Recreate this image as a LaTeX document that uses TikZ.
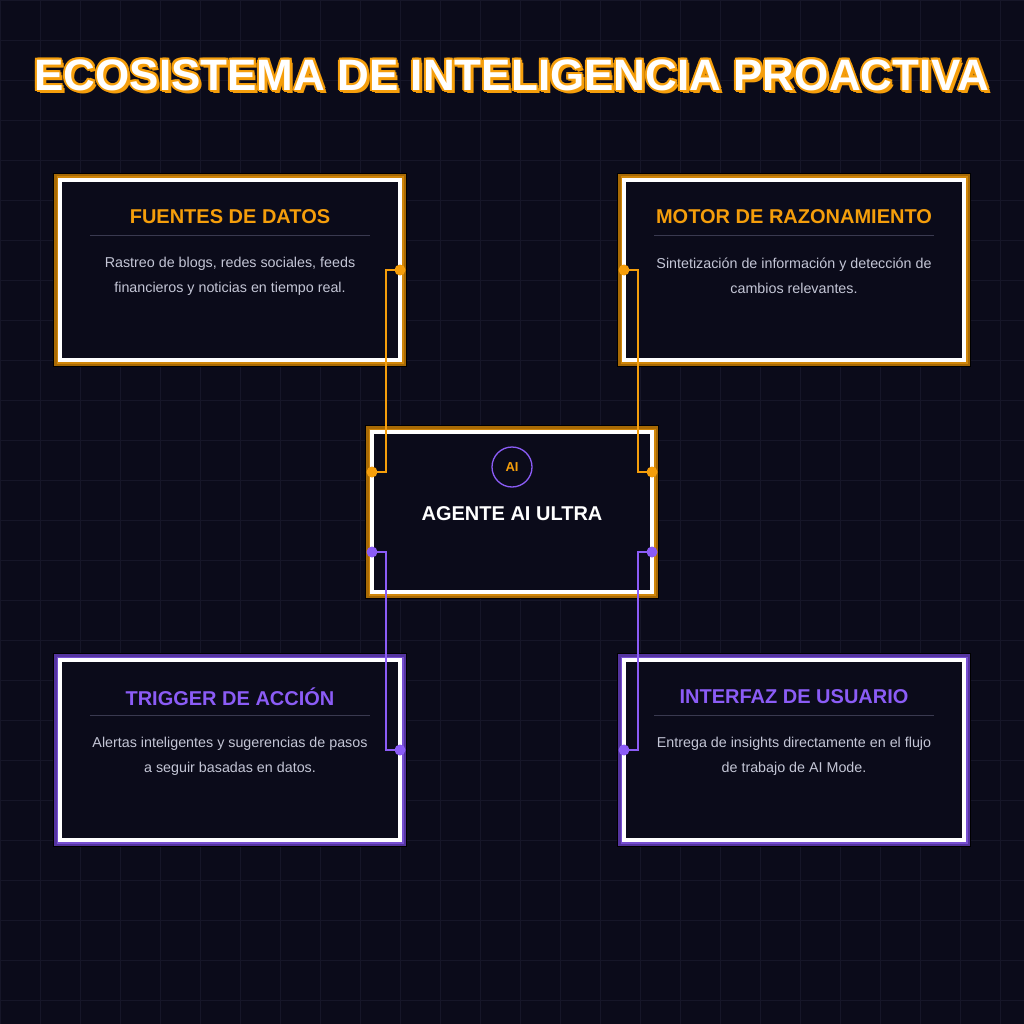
\documentclass[tikz,border=0pt]{standalone}
\usepackage{fontspec}
\setmainfont{Liberation Sans}
\definecolor{bg}{HTML}{0B0B1A}
\definecolor{gridc}{HTML}{161628}
\definecolor{org}{HTML}{F59E0B}
\definecolor{orgd}{HTML}{A86A05}
\definecolor{pur}{HTML}{8B5CF6}
\definecolor{purd}{HTML}{5535A0}
\definecolor{desc}{HTML}{C4C6D6}
\definecolor{sep}{HTML}{3A3A50}
\tikzset{
 ttl/.style={font=\bfseries\fontsize{20}{24}\selectfont},
 dsc/.style={font=\fontsize{14.3}{25}\selectfont, text=desc, align=center},
 conn/.style={line width=1.5pt},
 dot/.style={circle, inner sep=0pt, minimum size=11pt},
}
\newcommand{\cardbox}[6]{% x1 y1 x2 y2 accent dark
 \fill[black] (#1-7,#2-7) rectangle (#3+7,#4+7);
 \draw[#6, line width=6pt] (#1-3,#2-3) rectangle (#3+3,#4+3);
 \draw[#5!85!black, line width=2pt] (#1-2.5,#2-2.5) rectangle (#3+2.5,#4+2.5);
 \fill[bg] (#1,#2) rectangle (#3,#4);
 \draw[white, line width=4pt] (#1,#2) rectangle (#3,#4);
}
\begin{document}
\begin{tikzpicture}[x=1pt,y=-1pt]
\fill[bg] (0,0) rectangle (1024,1024);
\useasboundingbox (0,0) rectangle (1024,1024);
\foreach \i in {0,40,...,1000}{
 \draw[gridc, line width=0.8pt] (\i,0) -- (\i,1024);
 \draw[gridc, line width=0.8pt] (0,\i) -- (1024,\i);
}
% title
\foreach \dx/\dy in {3/3,-2/0,2/0,0/-2,0/2,-1.5/-1.5,1.5/1.5,-1.5/1.5,1.5/-1.5}{
 \node[text=org, font=\bfseries\fontsize{44}{50}\selectfont] at (512+\dx,75+\dy) {ECOSISTEMA DE INTELIGENCIA PROACTIVA};
}
\node[text=white, font=\bfseries\fontsize{44}{50}\selectfont] (title) at (512,75) {ECOSISTEMA DE INTELIGENCIA PROACTIVA};

\cardbox{60}{180}{400}{360}{org}{orgd}
\cardbox{624}{180}{964}{360}{org}{orgd}
\cardbox{372}{432}{652}{592}{org}{orgd}
\cardbox{60}{660}{400}{840}{pur}{purd}
\cardbox{624}{660}{964}{840}{pur}{purd}

% card texts
\node[ttl, text=org] (t1) at (230,217) {FUENTES DE DATOS};
\draw[sep] (90,235) -- (370,235);
\node[dsc] (d1) at (230,276) {Rastreo de blogs, redes sociales, feeds\\financieros y noticias en tiempo real.};
\node[ttl, text=org] (t2) at (794,217) {MOTOR DE RAZONAMIENTO};
\draw[sep] (654,235) -- (934,235);
\node[dsc] (d2) at (794,276) {Sintetización de información y detección de\\cambios relevantes.};
\node[ttl, text=pur] (t3) at (230,697) {TRIGGER DE ACCIÓN};
\draw[sep] (90,715) -- (370,715);
\node[dsc] (d3) at (230,756) {Alertas inteligentes y sugerencias de pasos\\a seguir basadas en datos.};
\node[ttl, text=pur] (t4) at (794,697) {INTERFAZ DE USUARIO};
\draw[sep] (654,715) -- (934,715);
\node[dsc] (d4) at (794,756) {Entrega de insights directamente en el flujo\\de trabajo de AI Mode.};

% center
\node[circle, draw=pur, line width=1.3pt, minimum size=40pt, inner sep=0pt, text=org, font=\bfseries\fontsize{13}{15}\selectfont] (ai) at (512,467) {AI};
\node[text=white, font=\bfseries\fontsize{20}{24}\selectfont] (agent) at (512,514) {AGENTE AI ULTRA};

% connector points
\coordinate (a1) at (400,270);
\coordinate (a2) at (372,472);
\coordinate (b1) at (624,270);
\coordinate (b2) at (652,472);
\coordinate (c1) at (372,552);
\coordinate (c2) at (400,750);
\coordinate (e1) at (652,552);
\coordinate (e2) at (624,750);
\draw[conn, org] (a1) -- ++(-14,0) |- (a2);
\draw[conn, org] (b1) -- ++(14,0) |- (b2);
\draw[conn, pur] (c1) -- ++(14,0) |- (c2);
\draw[conn, pur] (e1) -- ++(-14,0) |- (e2);
\foreach \p in {a1,a2,b1,b2}{\node[dot, fill=org] at (\p) {};}
\foreach \p in {c1,c2,e1,e2}{\node[dot, fill=pur] at (\p) {};}
\end{tikzpicture}
\end{document}
